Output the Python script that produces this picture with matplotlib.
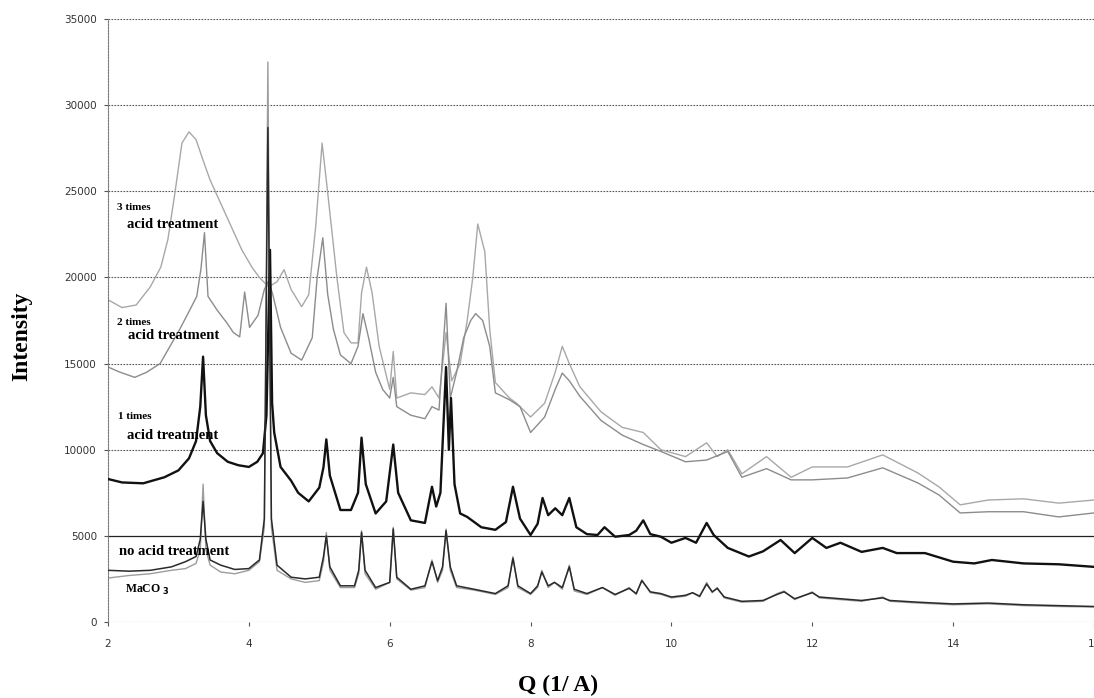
import matplotlib
matplotlib.use("Agg")
import matplotlib.pyplot as plt

# ---------------- data ----------------
q_low = [2.0,2.3,2.6,2.9,3.1,3.25,3.31,3.35,3.39,3.45,3.6,3.8,4.0,4.15,4.22,4.27,4.32,4.4,4.6,4.8,
         5.0,5.06,5.1,5.15,5.3,5.5,5.56,5.6,5.65,5.8,6.0,6.05,6.1,6.3,6.5,6.6,6.68,6.75,6.8,6.86,
         6.95,7.2,7.5,7.68,7.75,7.82,8.0,8.1,8.16,8.25,8.34,8.45,8.55,8.62,8.8,9.02,9.2,9.4,9.5,9.58,
         9.7,9.85,10.0,10.2,10.3,10.4,10.5,10.58,10.65,10.75,11.0,11.3,11.5,11.6,11.75,12.0,12.1,12.4,12.7,13.0,
         13.1,13.5,14.0,14.5,15.0,15.5,16.0]
i_maco3 = [2550,2700,2800,3000,3100,3400,4200,8000,4200,3300,2900,2800,3000,3500,5500,32500,5500,3000,2500,2300,
           2400,3500,5200,3000,2000,2000,2800,5300,2800,1900,2300,5500,2500,1850,2000,3600,2300,3000,5400,3000,
           2000,1850,1600,2000,3800,2000,1600,2000,3000,2000,2300,1900,3300,1800,1600,2000,1550,2000,1600,2450,
           1700,1600,1400,1500,1700,1450,2300,1700,2000,1400,1150,1200,1650,1800,1300,1750,1400,1300,1200,1450,
           1200,1100,1000,1050,950,900,870]
i_none = [3000,2950,3000,3200,3500,3800,4800,7000,4800,3600,3300,3050,3100,3600,6000,28700,6000,3300,2600,2500,
          2600,3800,5000,3200,2100,2100,3000,5200,3000,2000,2300,5400,2600,1900,2100,3500,2400,3200,5300,3200,
          2100,1900,1650,2100,3700,2100,1650,2100,2900,2100,2300,2000,3200,1900,1650,2000,1600,1950,1650,2400,
          1750,1650,1450,1550,1700,1500,2200,1750,1950,1450,1200,1250,1600,1750,1350,1700,1450,1350,1250,1400,
          1250,1150,1050,1100,1000,950,900]

q_1 = [2.0,2.2,2.5,2.8,3.0,3.15,3.25,3.31,3.35,3.39,3.45,3.55,3.7,3.85,4.0,4.12,4.2,4.25,4.3,4.33,
       4.36,4.45,4.6,4.7,4.85,5.0,5.06,5.1,5.15,5.3,5.45,5.55,5.6,5.66,5.8,5.95,6.05,6.12,6.3,6.5,
       6.6,6.66,6.72,6.8,6.84,6.87,6.92,7.0,7.1,7.3,7.5,7.65,7.75,7.85,8.0,8.1,8.17,8.25,8.35,8.45,
       8.55,8.65,8.8,8.95,9.05,9.2,9.4,9.5,9.6,9.7,9.85,10.0,10.2,10.35,10.5,10.6,10.8,11.1,11.3,11.55,
       11.75,12.0,12.2,12.4,12.7,13.0,13.2,13.6,14.0,14.3,14.55,15.0,15.5,16.0]
i_1 = [8300,8100,8050,8400,8800,9500,10500,12500,15400,12000,10500,9800,9300,9100,9000,9300,9800,12000,21600,12700,
       11000,9000,8200,7500,7000,7800,9000,10600,8500,6500,6500,7500,10700,8000,6300,7000,10300,7500,5900,5750,
       7850,6700,7500,14800,10000,13000,8000,6300,6100,5500,5350,5800,7850,6000,5050,5700,7200,6200,6600,6200,
       7200,5500,5100,5050,5500,4950,5050,5300,5900,5100,4950,4600,4880,4600,5750,5050,4300,3800,4100,4760,
       4000,4880,4300,4600,4070,4300,4000,4000,3500,3400,3600,3400,3350,3200]

q_2 = [2.0,2.17,2.38,2.55,2.74,2.88,3.02,3.16,3.26,3.32,3.37,3.42,3.55,3.69,3.78,3.87,3.94,4.01,4.13,4.22,
       4.28,4.34,4.45,4.6,4.75,4.9,4.97,5.05,5.12,5.2,5.3,5.45,5.55,5.62,5.7,5.8,5.9,6.0,6.05,6.1,
       6.3,6.5,6.6,6.7,6.8,6.86,6.95,7.05,7.15,7.22,7.32,7.42,7.5,7.7,7.85,8.0,8.2,8.35,8.45,8.55,
       8.7,9.0,9.3,9.6,9.85,10.2,10.5,10.8,11.0,11.35,11.7,12.0,12.5,13.0,13.5,13.8,14.1,14.5,15.0,15.5,
       16.0]
i_2 = [14800,14500,14200,14500,15000,16000,17000,18100,18900,20500,22600,18900,18100,17350,16800,16550,19150,17100,17800,19300,
       19800,19000,17100,15600,15200,16500,20000,22300,19000,17000,15500,15000,16000,17900,16500,14500,13500,13000,14200,12500,
       12000,11800,12500,12300,18500,13000,14500,16500,17500,17900,17500,16000,13300,12900,12500,11000,11900,13500,14450,14000,
       13100,11700,10850,10300,9900,9300,9400,9900,8400,8900,8250,8250,8360,8950,8070,7370,6330,6400,6400,6100,
       6330]

q_3 = [2.0,2.2,2.4,2.6,2.75,2.85,2.95,3.05,3.15,3.25,3.35,3.45,3.6,3.75,3.9,4.05,4.15,4.28,4.4,4.5,
       4.6,4.75,4.85,4.95,5.04,5.12,5.25,5.35,5.45,5.55,5.6,5.67,5.75,5.85,6.0,6.05,6.1,6.3,6.5,6.6,
       6.7,6.8,6.88,7.0,7.1,7.18,7.25,7.35,7.42,7.5,7.7,7.8,8.0,8.2,8.35,8.45,8.55,8.7,9.0,9.3,
       9.6,9.85,10.2,10.5,10.65,10.8,11.0,11.35,11.7,12.0,12.5,13.0,13.5,13.8,14.1,14.5,15.0,15.5,16.0]
i_3 = [18700,18250,18400,19450,20600,22200,24900,27800,28450,28000,26800,25650,24300,22950,21600,20550,20000,19450,19750,20450,
       19300,18300,19000,23000,27800,24900,20000,16800,16200,16200,19100,20600,19100,16000,13500,15700,13000,13300,13200,13650,
       13000,16800,14000,15000,17500,20000,23100,21500,17000,13900,13000,12700,11900,12700,14500,16000,15000,13650,12200,11300,
       11000,10000,9600,10400,9600,10000,8600,9600,8400,9000,9000,9700,8650,7840,6800,7080,7150,6900,7080]

x_ticks = [2, 4, 6, 8, 10, 12, 14, 16]
y_ticks = [0, 5000, 10000, 15000, 20000, 25000, 30000, 35000]

# ---------------- figure ----------------
fig = plt.figure(figsize=(10.94, 6.98), dpi=100)
ax = fig.add_axes([108/1094, 76/698, 986/1094, 603/698])

ax.set_xlim(2, 16)
ax.set_ylim(0, 35000)

for yv in y_ticks:
    if yv == 5000:
        ax.axhline(yv, color='#222222', lw=0.9, zorder=0)
    else:
        ax.axhline(yv, color='#555555', lw=0.8, ls=(0, (1.5, 1.2)), zorder=0)

ax.plot(q_3, i_3, color='#a8a8a8', lw=1.0, zorder=2)
ax.plot(q_2, i_2, color='#8c8c8c', lw=1.0, zorder=2)
ax.plot(q_1, i_1, color='#111111', lw=1.7, zorder=3)
ax.plot(q_low, i_maco3, color='#9c9c9c', lw=1.0, zorder=2)
ax.plot(q_low, i_none, color='#2a2a2a', lw=1.1, zorder=3)

for s in ['top', 'right', 'bottom']:
    ax.spines[s].set_visible(False)
ax.spines['left'].set_color('#777777')
ax.spines['left'].set_linestyle((0, (1.5, 1.2)))
ax.spines['left'].set_linewidth(0.8)

ax.set_xticks(x_ticks)
ax.set_yticks(y_ticks)
ax.set_xticklabels([str(v) for v in x_ticks], fontfamily='DejaVu Sans', fontsize=7.5, color='#333333')
ax.set_yticklabels([str(v) for v in y_ticks], fontfamily='DejaVu Sans', fontsize=7.5, color='#333333')
ax.tick_params(axis='both', length=3, width=0.8, color='#555555')
ax.tick_params(axis='x', pad=9)
ax.tick_params(axis='y', pad=5)

ax.set_xlabel('Q (1/ A)', fontfamily='Liberation Serif', fontweight='bold', fontsize=17)
ax.set_ylabel('Intensity', fontfamily='Liberation Serif', fontweight='bold', fontsize=17)
ax.xaxis.set_label_coords((558 - 108) / 986, (622 - 685) / 603)
ax.yaxis.set_label_coords((22 - 108) / 986, (622 - 336) / 603)
ax.xaxis.label.set_va('center')
ax.yaxis.label.set_va('center')

# annotations
labels_small = ['3 times', '2 times', '1 times']
labels_big = ['acid treatment', 'acid treatment', 'acid treatment']
small_pos = [(2.13, 24050), (2.13, 17400), (2.14, 11900)]
big_pos = [(2.27, 23050), (2.29, 16650), (2.27, 10850)]
for t, (x, y) in zip(labels_small, small_pos):
    ax.text(x, y, t, fontfamily='Liberation Serif', fontweight='bold', fontsize=8, va='center', ha='left', zorder=5)
for t, (x, y) in zip(labels_big, big_pos):
    ax.text(x, y, t, fontfamily='Liberation Serif', fontweight='bold', fontsize=10.5, va='center', ha='left', zorder=5)
ax.text(2.16, 4100, 'no acid treatment', fontfamily='Liberation Serif', fontweight='bold', fontsize=10.5, va='center', ha='left', zorder=5)
ax.text(2.24, 1850, r'MaCO $_{\mathbf{3}}$', fontfamily='Liberation Serif', fontweight='bold', fontsize=8.5, va='center', ha='left', zorder=5)

fig.savefig('out.png', dpi=100)
